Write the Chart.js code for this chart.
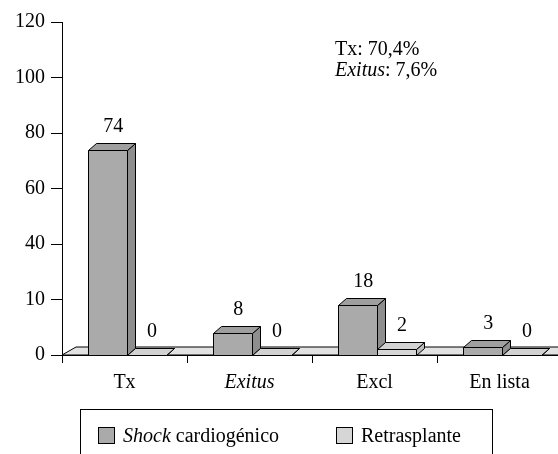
<!DOCTYPE html>
<html>
<head>
<meta charset="utf-8">
<script src="https://cdn.jsdelivr.net/npm/chart.js@4.4.1/dist/chart.umd.min.js"></script>
<style>
  html, body { margin: 0; padding: 0; background: #fff; overflow: hidden; }
  #wrap { width: 566px; height: 454px; }
</style>
</head>
<body>
<div id="wrap"><canvas id="chart" width="566" height="454"></canvas></div>
<script>
// data
const categories = ['Tx', 'Exitus', 'Excl', 'En lista'];
const italicCategories = ['Exitus'];
const shockValues = [74, 8, 18, 3];
const retrasplanteValues = [0, 0, 2, 0];
const yTickLabels = ['0', '10', '40', '60', '80', '100', '120'];
const seriesNames = ['Shock cardiogénico', 'Retrasplante'];
// italic part + plain part
const legendParts = [['Shock', ' cardiogénico'], ['', 'Retrasplante']];
const noteParts = [['', 'Tx: 70,4%'], ['Exitus', ': 7,6%']];

const SERIF = "'Liberation Serif', 'Times New Roman', serif";
const DX = 8, DY = 7;      // bar depth
const FDX = 14, FDY = 8;   // floor depth
const XS = 2;              // small nudge of the bars to the right

const faces = [
  { front: '#aaaaaa', top: '#9f9f9f', side: '#8e8e8e' },
  { front: '#d6d6d6', top: '#d2d2d2', side: '#bcbcbc' }
];

function poly(ctx, pts, fill) {
  ctx.beginPath();
  ctx.moveTo(pts[0][0], pts[0][1]);
  for (let i = 1; i < pts.length; i++) ctx.lineTo(pts[i][0], pts[i][1]);
  ctx.closePath();
  ctx.fillStyle = fill;
  ctx.fill();
  ctx.stroke();
}

function drawBox(ctx, x, top, w, base, c) {
  if (base - top > 0.5) {
    poly(ctx, [[x, top], [x + w, top], [x + w, base], [x, base]], c.front);
  }
  poly(ctx, [[x + w, top], [x + w + DX, top - DY], [x + w + DX, base - DY], [x + w, base]], c.side);
  poly(ctx, [[x, top], [x + DX, top - DY], [x + w + DX, top - DY], [x + w, top]], c.top);
}

function richText(ctx, x, y, parts, size) {
  let cx = x;
  if (parts[0]) {
    ctx.font = 'italic ' + size + 'px ' + SERIF;
    ctx.fillText(parts[0], cx, y);
    cx += ctx.measureText(parts[0]).width;
  }
  ctx.font = size + 'px ' + SERIF;
  ctx.fillText(parts[1], cx, y);
}

const bars3d = {
  id: 'bars3d',
  beforeDatasetsDraw(chart) {
    const ctx = chart.ctx, a = chart.chartArea;
    ctx.save();
    ctx.strokeStyle = '#000';
    ctx.lineWidth = 1;
    poly(ctx, [[a.left, a.bottom], [a.left + FDX, a.bottom - FDY], [a.right + FDX, a.bottom - FDY], [a.right, a.bottom]], '#e2e2e2');
    ctx.restore();
  },
  afterDatasetsDraw(chart) {
    const ctx = chart.ctx;
    ctx.save();
    ctx.strokeStyle = '#000';
    ctx.lineWidth = 1;
    const metas = chart.data.datasets.map((d, i) => chart.getDatasetMeta(i));
    for (let i = 0; i < categories.length; i++) {
      metas.forEach((m, di) => {
        const el = m.data[i];
        const x = Math.round(el.x - el.width / 2 + XS) + 0.5;
        drawBox(ctx, x, Math.round(el.y) + 0.5, Math.round(el.width), Math.round(el.base) + 0.5, faces[di]);
      });
    }
    // value labels
    ctx.fillStyle = '#000';
    ctx.font = '20px ' + SERIF;
    ctx.textAlign = 'center';
    ctx.textBaseline = 'alphabetic';
    metas.forEach((m, di) => {
      m.data.forEach((el, i) => {
        const v = chart.data.datasets[di].data[i];
        ctx.fillText(String(v), el.x + XS + 6, el.y - DY - 11);
      });
    });
    ctx.restore();
  },
  afterDraw(chart) {
    const ctx = chart.ctx;
    ctx.save();
    ctx.fillStyle = '#000';
    ctx.textAlign = 'left';
    ctx.textBaseline = 'alphabetic';
    // note in the corner
    noteParts.forEach((p, i) => richText(ctx, 335, 55 + i * 21, p, 20));
    // legend box
    ctx.strokeStyle = '#000';
    ctx.lineWidth = 1;
    ctx.strokeRect(80.5, 409.5, 412, 60);
    const sx = [98, 336];
    legendParts.forEach((p, i) => {
      ctx.fillStyle = faces[i].front;
      ctx.fillRect(sx[i] + 0.5, 427.5, 16, 16);
      ctx.strokeRect(sx[i] + 0.5, 427.5, 16, 16);
      ctx.fillStyle = '#000';
      richText(ctx, sx[i] + 25, 442, p, 20);
    });
    ctx.restore();
  }
};

function draw() {
  new Chart(document.getElementById('chart'), {
    type: 'bar',
    data: {
      labels: categories,
      datasets: [
        { label: seriesNames[0], data: shockValues, backgroundColor: 'rgba(0,0,0,0)', borderWidth: 0 },
        { label: seriesNames[1], data: retrasplanteValues, backgroundColor: 'rgba(0,0,0,0)', borderWidth: 0 }
      ]
    },
    options: {
      responsive: false,
      animation: false,
      devicePixelRatio: 1,
      layout: { padding: { top: 22, right: 4, left: 0, bottom: 0 } },
      datasets: { bar: { barPercentage: 1, categoryPercentage: 0.62 } },
      plugins: { legend: { display: false }, tooltip: { enabled: false } },
      scales: {
        x: {
          grid: { offset: true, drawOnChartArea: false, tickLength: 8, color: '#000' },
          border: { color: '#000', width: 1 },
          ticks: {
            color: '#000',
            padding: 8,
            font: (c) => ({
              family: SERIF,
              size: 20,
              style: italicCategories.includes(categories[c.index]) ? 'italic' : 'normal'
            })
          },
          afterFit: (s) => { s.height = 454 - 355; }
        },
        y: {
          min: 0,
          max: 120,
          ticks: {
            stepSize: 20,
            padding: 6,
            color: '#000',
            font: { family: SERIF, size: 20 },
            callback: (v, i) => yTickLabels[i]
          },
          grid: { drawOnChartArea: false, tickLength: 11, color: '#000' },
          border: { color: '#000', width: 1 },
          afterFit: (s) => { s.width = 62; }
        }
      }
    },
    plugins: [bars3d]
  });
}

Promise.all([
  document.fonts.load("20px 'Liberation Serif'"),
  document.fonts.load("italic 20px 'Liberation Serif'")
]).then(draw, draw);
</script>
</body>
</html>
